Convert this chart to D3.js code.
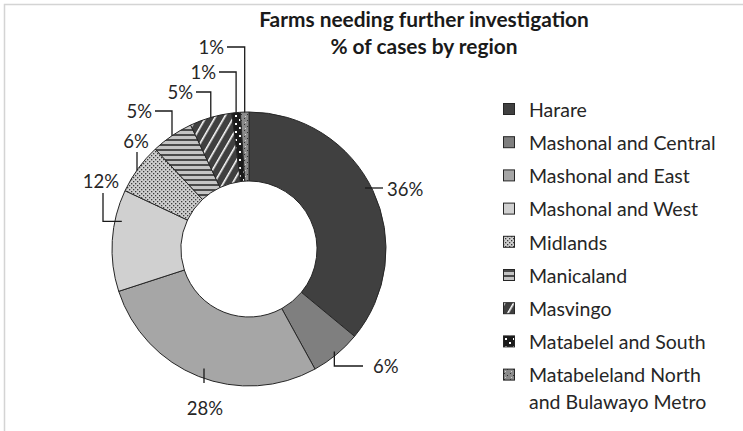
<!DOCTYPE html>
<html>
<head>
<meta charset="utf-8">
<script src="https://cdn.jsdelivr.net/npm/d3@7"></script>
<style>
    body { margin: 0; background: #fff; }
    text { font-family: Lato, "Noto Sans", sans-serif; fill: #262626; }
</style>
</head>
<body>
<svg id="chart" width="743" height="431"></svg>
<script>
var titleLines = ["Farms needing further investigation", "% of cases by region"];
var regions = ["Harare", "Mashonal and Central", "Mashonal and East", "Mashonal and West",
    "Midlands", "Manicaland", "Masvingo", "Matabelel and South",
    "Matabeleland North\nand Bulawayo Metro"];
var shares = [36, 6, 28, 12, 6, 5, 5, 1, 1];
var shareLabels = ["36%", "6%", "28%", "12%", "6%", "5%", "5%", "1%", "1%"];
var fills = ["#404040", "#7f7f7f", "#a6a6a6", "#d0d0d0",
    "url(#pDots)", "url(#pStripes)", "url(#pDiag)", "url(#pBlackDots)", "url(#pSpeckle)"];

// where each data label sits, relative to the pie centre, and how its leader runs
var labelLayout = [
    {dx: 138, dy: -59, anchor: "start", route: "h"},
    {dx: 124, dy: 118, anchor: "start", route: "vh"},
    {dx: -44, dy: 160, anchor: "middle", route: "v"},
    {dx: -148, dy: -67, anchor: "middle", route: "down", at: 0.7, rf: 0.95},
    {dx: -113, dy: -107, anchor: "middle", route: "v"},
    {dx: -97, dy: -137, anchor: "end", route: "hv"},
    {dx: -56, dy: -156, anchor: "end", route: "hv"},
    {dx: -33, dy: -176, anchor: "end", route: "hv"},
    {dx: -25, dy: -201, anchor: "end", route: "hv"}
];

var svg = d3.select("#chart");
var cx = 249, cy = 249, outerR = 137, innerR = 68;

// frame (only top and left edges are in view)
svg.append("rect")
    .attr("x", 4.5).attr("y", 4.5)
    .attr("width", 900).attr("height", 900)
    .attr("fill", "none")
    .attr("stroke", "#d4d4d4")
    .attr("stroke-width", 1.5);

var defs = svg.append("defs");

var p = defs.append("pattern").attr("id", "pDots")
    .attr("patternUnits", "userSpaceOnUse").attr("width", 4).attr("height", 4);
p.append("rect").attr("width", 4).attr("height", 4).attr("fill", "#cfcfcf");
p.append("rect").attr("x", 0).attr("y", 0).attr("width", 1.3).attr("height", 1.3).attr("fill", "#3a3a3a");
p.append("rect").attr("x", 2).attr("y", 2).attr("width", 1.3).attr("height", 1.3).attr("fill", "#3a3a3a");

p = defs.append("pattern").attr("id", "pStripes")
    .attr("patternUnits", "userSpaceOnUse").attr("width", 6).attr("height", 5);
p.append("rect").attr("width", 6).attr("height", 5).attr("fill", "#c4c4c4");
p.append("rect").attr("y", 0).attr("width", 6).attr("height", 2).attr("fill", "#4a4a4a");

p = defs.append("pattern").attr("id", "pDiag")
    .attr("patternUnits", "userSpaceOnUse").attr("width", 8).attr("height", 8)
    .attr("patternTransform", "rotate(30)");
p.append("rect").attr("width", 8).attr("height", 8).attr("fill", "#404040");
p.append("rect").attr("x", 0).attr("width", 1.6).attr("height", 8).attr("fill", "#ffffff");

p = defs.append("pattern").attr("id", "pBlackDots")
    .attr("patternUnits", "userSpaceOnUse").attr("width", 8).attr("height", 8);
p.append("rect").attr("width", 8).attr("height", 8).attr("fill", "#1a1a1a");
p.append("rect").attr("x", 2).attr("y", 2).attr("width", 2).attr("height", 2).attr("fill", "#ffffff");
p.append("rect").attr("x", 6).attr("y", 6).attr("width", 2).attr("height", 2).attr("fill", "#ffffff");

p = defs.append("pattern").attr("id", "pSpeckle")
    .attr("patternUnits", "userSpaceOnUse").attr("width", 6).attr("height", 6);
p.append("rect").attr("width", 6).attr("height", 6).attr("fill", "#8a8a8a");
p.append("rect").attr("x", 1).attr("y", 1).attr("width", 1).attr("height", 1).attr("fill", "#303030");
p.append("rect").attr("x", 4).attr("y", 3).attr("width", 1).attr("height", 1).attr("fill", "#303030");
p.append("rect").attr("x", 2).attr("y", 5).attr("width", 1).attr("height", 1).attr("fill", "#cfcfcf");

// title, sized so the first line spans about the width it has in the original
var title = svg.append("g").selectAll("text")
    .data(titleLines)
    .enter().append("text")
    .attr("x", 424)
    .attr("y", function (d, i) { return 27 + i * 27; })
    .attr("text-anchor", "middle")
    .attr("font-size", 18)
    .attr("font-weight", "bold")
    .style("fill", "#1a1a1a")
    .text(function (d) { return d; });
var w = title.node().getComputedTextLength();
if (w > 0) title.attr("font-size", 18 * 330 / w);

var pie = d3.pie().sort(null).value(function (d) { return d; });
var arcs = pie(shares);
var arc = d3.arc().innerRadius(innerR).outerRadius(outerR);

var g = svg.append("g").attr("transform", "translate(" + cx + "," + cy + ")");

g.selectAll("path.slice")
    .data(arcs)
    .enter().append("path")
    .attr("class", "slice")
    .attr("d", arc)
    .attr("fill", function (d, i) { return fills[i]; })
    .attr("stroke", "#262626")
    .attr("stroke-width", 1);

// data labels with leader lines
function edgePoint(d, at, rf) {
    var a = d.startAngle + (d.endAngle - d.startAngle) * at;
    var r = outerR * rf;
    return [r * Math.sin(a), -r * Math.cos(a)];
}

arcs.forEach(function (d, i) {
    var L = labelLayout[i];
    var pt = edgePoint(d, L.at == null ? 0.5 : L.at, L.rf == null ? 1 : L.rf);
    var pts;
    if (L.route == "h") {
        pts = [[pt[0] - 8, L.dy - 2], [L.dx - 4, L.dy - 2]];
    } else if (L.route == "vh") {
        pts = [[pt[0] - 2, pt[1] - 3], [pt[0] - 2, L.dy - 1], [L.dx - 10, L.dy - 1]];
    } else if (L.route == "v") {
        pts = [[L.dx - 1, pt[1] - 8], [L.dx - 1, L.dy - 26]];
        if (L.dy < pt[1]) pts = [[L.dx + 1, L.dy + 10], [L.dx + 1, pt[1] + 2]];
    } else if (L.route == "down") {
        pts = [[L.dx + 2, L.dy + 11], [L.dx + 2, pt[1]], [pt[0], pt[1]]];
    } else {
        pts = [[L.dx + 3, L.dy - 1], [pt[0], L.dy - 1], [pt[0], pt[1]]];
    }
    g.append("path")
        .attr("d", d3.line()(pts))
        .attr("fill", "none")
        .attr("stroke", "#1a1a1a")
        .attr("stroke-width", 1.3);

    g.append("text")
        .attr("x", L.dx)
        .attr("y", L.dy)
        .attr("dy", "0.35em")
        .attr("text-anchor", L.anchor)
        .attr("font-size", 18.5)
        .text(shareLabels[i]);
});

// legend
var legend = svg.append("g").attr("transform", "translate(503,0)");
var rowY = d3.scaleLinear().domain([0, 1]).range([110, 143.2]);

regions.forEach(function (name, i) {
    var y = rowY(i);
    legend.append("rect")
        .attr("x", 0.5).attr("y", y - 6.5)
        .attr("width", 11).attr("height", 11)
        .attr("fill", fills[i])
        .attr("stroke", "#262626")
        .attr("stroke-width", 1);
    var t = legend.append("text")
        .attr("x", 26).attr("y", y)
        .attr("dy", "0.35em")
        .attr("font-size", 19.5);
    name.split("\n").forEach(function (line, k) {
        t.append("tspan").attr("x", 26).attr("dy", k == 0 ? "0.35em" : 27).text(line);
    });
});
</script>
</body>
</html>
